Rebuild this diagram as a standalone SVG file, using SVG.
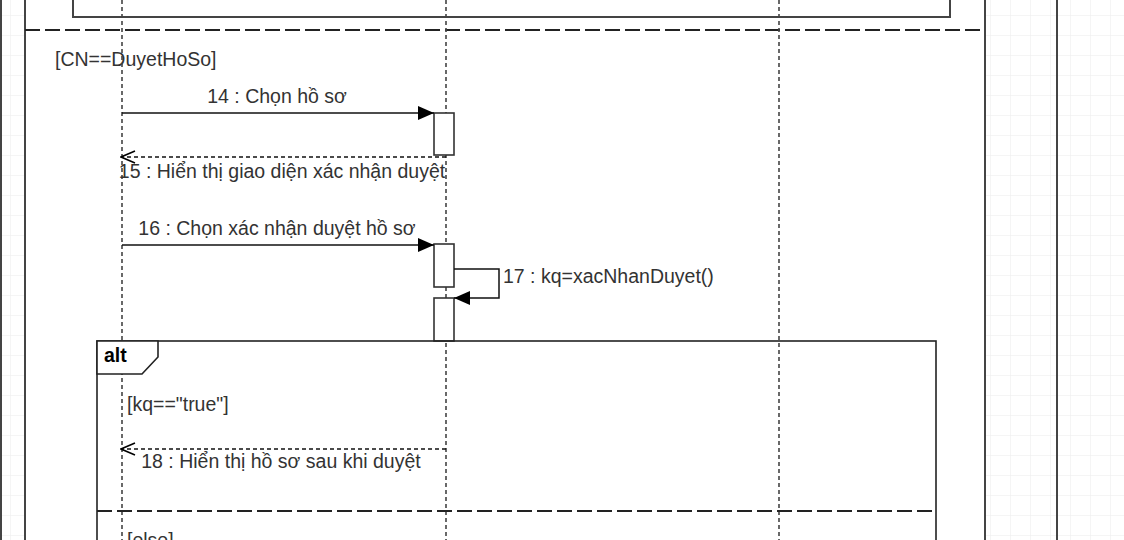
<svg xmlns="http://www.w3.org/2000/svg" width="1124" height="540" viewBox="0 0 1124 540">
<defs>
<pattern id="grid" x="10" y="15" width="20" height="20" patternUnits="userSpaceOnUse">
<path d="M0 0H20M0 0V20" fill="none" stroke="#ececec" stroke-width="1"/>
</pattern>
<marker id="filled" viewBox="0 0 16 14" refX="16" refY="7" markerWidth="16" markerHeight="14" markerUnits="userSpaceOnUse" orient="auto">
<path d="M0 0L16 7L0 14Z" fill="#000"/>
</marker>
<marker id="open" viewBox="0 0 16 14" refX="15" refY="7" markerWidth="16" markerHeight="14" markerUnits="userSpaceOnUse" orient="auto">
<path d="M1 1L15 7L1 13" fill="none" stroke="#000" stroke-width="1.5"/>
</marker>
</defs>
<style>
.t{font-family:"Liberation Sans",Arial,sans-serif;font-size:19.5px;fill:#333}
.b{font-weight:bold;fill:#000}
.frame{fill:none;stroke:#444;stroke-width:2}
.sep{fill:none;stroke:#222;stroke-width:2;stroke-dasharray:15 5}
.life{fill:none;stroke:#444;stroke-width:1.6;stroke-dasharray:4 3}
.act{fill:#fff;stroke:#333;stroke-width:1.6}
.msg{fill:none;stroke:#111;stroke-width:1.5}
.ret{fill:none;stroke:#111;stroke-width:1.5;stroke-dasharray:4 3}
</style>
<rect width="1124" height="540" fill="#fff"/>
<rect width="1124" height="540" fill="url(#grid)"/>
<g id="outer-left-edge"><line x1="1" y1="0" x2="1" y2="540" class="frame"/></g>
<g id="right-panel-edge"><line x1="1057" y1="0" x2="1057" y2="540" class="frame"/></g>
<g id="outer-frame">
<rect x="25" y="-10" width="960" height="560" fill="#fff" stroke="#444" stroke-width="2"/>
<line x1="25" y1="30" x2="985" y2="30" class="sep"/>
<text x="55" y="66" class="t">[CN==DuyetHoSo]</text>
</g>
<g id="inner-box-top"><rect x="73" y="-20" width="877" height="37" class="frame"/></g>
<g id="lifelines">
<line x1="122" y1="0" x2="122" y2="540" class="life"/>
<line x1="446" y1="0" x2="446" y2="540" class="life"/>
<line x1="779" y1="0" x2="779" y2="540" class="life"/>
</g>
<g id="activation-1"><rect x="434" y="113" width="20" height="42" class="act"/></g>
<g id="activation-2"><rect x="434" y="244" width="20" height="43" class="act"/></g>
<g id="activation-3"><rect x="434" y="298" width="20" height="43" class="act"/></g>
<g id="alt-frame">
<rect x="97" y="341" width="839" height="220" fill="none" stroke="#222" stroke-width="1.6"/>
<path d="M97 341H158V357L142 374H97Z" fill="#fff" stroke="#222" stroke-width="1.6"/>
<text x="104" y="362" class="t b">alt</text>
<text x="127" y="411" class="t">[kq=="true"]</text>
<line x1="97" y1="511" x2="932" y2="511" class="sep"/>
<text x="127" y="547" class="t">[else]</text>
</g>
<g id="connectors">
<line x1="122" y1="113" x2="434" y2="113" class="msg" marker-end="url(#filled)"/>
<text x="277" y="103" class="t" text-anchor="middle">14 : Chọn hồ sơ</text>
<line x1="446" y1="157" x2="121" y2="157" class="ret" marker-end="url(#open)"/>
<text x="282" y="178" class="t" text-anchor="middle">15 : Hiển thị giao diện xác nhận duyệt</text>
<line x1="122" y1="245" x2="434" y2="245" class="msg" marker-end="url(#filled)"/>
<text x="277" y="235" class="t" text-anchor="middle">16 : Chọn xác nhận duyệt hồ sơ</text>
<path d="M454 269H499V298H454" class="msg" marker-end="url(#filled)"/>
<text x="503" y="283" class="t">17 : kq=xacNhanDuyet()</text>
<line x1="446" y1="449" x2="121" y2="449" class="ret" marker-end="url(#open)"/>
<text x="281" y="468" class="t" text-anchor="middle">18 : Hiển thị hồ sơ sau khi duyệt</text>
</g>
</svg>
